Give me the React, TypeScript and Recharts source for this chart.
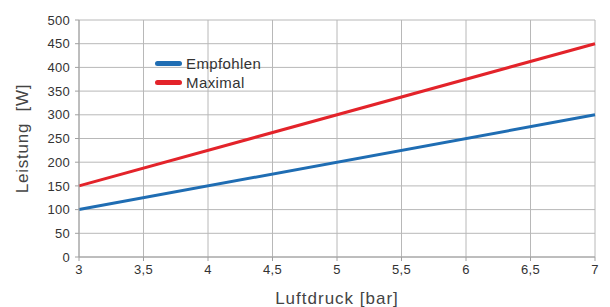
import React from 'react';
import {
  LineChart,
  Line,
  XAxis,
  YAxis,
  CartesianGrid,
  Legend,
  Label
} from 'recharts';

// Luftdruck [bar]
const pressure = [3, 7];
// Leistung [W]
const recommended = [100, 300];
const maximal = [150, 450];

const xTicks = [3, 3.5, 4, 4.5, 5, 5.5, 6, 6.5, 7];
const yTicks = [0, 50, 100, 150, 200, 250, 300, 350, 400, 450, 500];

const data = pressure.map((p, i) => ({
  p,
  empfohlen: recommended[i],
  maximal: maximal[i]
}));

const FONT = '"Liberation Sans", Arial, sans-serif';

const LegendBox = ({ payload }: any) => (
  <div style={{ fontFamily: FONT, fontSize: 15, color: '#333', letterSpacing: 0.4 }}>
    {payload.map((entry: any, index: number) => (
      <div key={index} style={{ display: 'flex', alignItems: 'center', height: 19 }}>
        <span
          style={{
            display: 'inline-block',
            width: 27,
            height: 5,
            borderRadius: 3,
            background: entry.color,
            marginRight: 4
          }}
        />
        {entry.value}
      </div>
    ))}
  </div>
);

const App = () => {
  return (
    <div style={{ position: 'absolute', left: 0, top: 0, background: '#fff' }}>
      <LineChart
        width={610}
        height={307}
        data={data}
        margin={{ top: 20, right: 15, left: 0, bottom: 0 }}
      >
        <CartesianGrid stroke="#b8b8b8" strokeWidth={1} />
        <XAxis
          dataKey="p"
          type="number"
          domain={[3, 7]}
          ticks={xTicks}
          tickFormatter={(v: number) => String(v).replace('.', ',')}
          height={50}
          stroke="#a0a0a0"
          tickSize={4}
          tick={{ fill: '#333', fontSize: 13, fontFamily: FONT, letterSpacing: 0.3 }}
          tickMargin={4}
        >
          <Label
            value="Luftdruck [bar]"
            position="insideBottom"
            offset={3}
            style={{ fill: '#444', fontSize: 17, fontFamily: FONT, letterSpacing: 1 }}
          />
        </XAxis>
        <YAxis
          type="number"
          domain={[0, 500]}
          ticks={yTicks}
          width={79}
          stroke="#a0a0a0"
          tickSize={4}
          tick={{ fill: '#333', fontSize: 13, fontFamily: FONT, letterSpacing: 0.3 }}
          tickMargin={5}
        >
          <Label
            value={'Leistung\u00a0 [W]'}
            angle={-90}
            position="insideLeft"
            offset={22}
            style={{ textAnchor: 'middle', fill: '#444', fontSize: 17, fontFamily: FONT, letterSpacing: 0.8 }}
          />
        </YAxis>
        <Legend
          layout="horizontal"
          verticalAlign="middle"
          align="center"
          wrapperStyle={{ position: 'absolute', left: 155, top: 54, width: 'auto' }}
          content={<LegendBox />}
        />
        <Line
          type="linear"
          dataKey="empfohlen"
          name="Empfohlen"
          stroke="#1f6db3"
          strokeWidth={3}
          dot={false}
          isAnimationActive={false}
        />
        <Line
          type="linear"
          dataKey="maximal"
          name="Maximal"
          stroke="#e3232a"
          strokeWidth={3}
          dot={false}
          isAnimationActive={false}
        />
      </LineChart>
    </div>
  );
};

export default App;
